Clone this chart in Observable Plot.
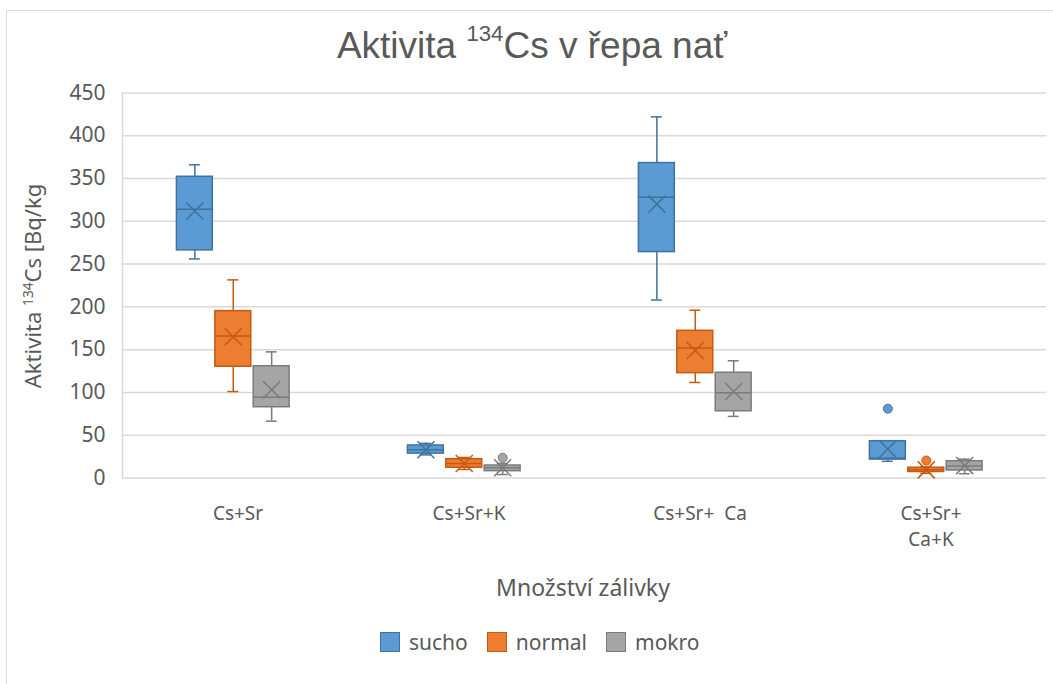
<!DOCTYPE html>
<html><head><meta charset="utf-8">
<script src="https://cdn.jsdelivr.net/npm/d3@7"></script>
<script src="https://cdn.jsdelivr.net/npm/@observablehq/plot@0.6"></script>
<style>
body{margin:0;background:#fff;width:1053px;height:684px;overflow:hidden;position:relative;font-family:"Noto Sans",sans-serif;color:#595959}
#border{position:absolute;left:6px;top:10px;width:1100px;height:720px;border:1.5px solid #dcdcdc;box-sizing:border-box}
#title{position:absolute;left:0;width:1064px;top:26px;text-align:center;font-family:"Liberation Sans",sans-serif;font-size:37px;line-height:40px;white-space:nowrap}
#title sup{font-size:0.6em;vertical-align:0;position:relative;top:-0.75em}
#ytitle{position:absolute;left:34px;top:286px;transform:translate(-50%,-50%) rotate(-90deg);font-size:22px;white-space:nowrap;line-height:24px}
#ytitle sup{font-size:0.62em;position:relative;top:-0.6em;vertical-align:0}
#xtitle{position:absolute;left:383px;width:400px;top:573px;text-align:center;font-size:23px;line-height:28px}
#legend{position:absolute;left:380px;top:629px;display:flex;align-items:center;font-size:21px;line-height:26px}
.item{display:flex;align-items:center;margin-right:19px}
.sw{width:20px;height:20px;margin-right:9px;box-sizing:border-box;border:1.5px solid}
#chart{position:absolute;left:0;top:70px}
svg text{white-space:pre}
</style></head>
<body>
<div id="border"></div>
<div id="title">Aktivita <sup>134</sup>Cs v řepa nať</div>
<div id="ytitle">Aktivita <sup>134</sup>Cs [Bq/kg</div>
<div id="chart"></div>
<div id="xtitle">Množství zálivky</div>
<div id="legend"></div>
<script>
const categories = ["Cs+Sr", "Cs+Sr+K", "Cs+Sr+  Ca", "Cs+Sr+\nCa+K"];
const seriesNames = ["sucho", "normal", "mokro"];
const fills = ["#5b9bd5", "#ed7d31", "#a5a5a5"];
const strokes = ["#41719c", "#c55a11", "#7b7b7b"];
const yTicks = [0, 50, 100, 150, 200, 250, 300, 350, 400, 450];

// per series, per category
const minV  = {sucho: [256, 27, 208, 19.5], normal: [101, 10, 111.6, 5.5], mokro: [66.4, 4, 72, 5]};
const q1V   = {sucho: [266, 28.5, 264, 21.5], normal: [130, 12, 122.5, 7], mokro: [82.7, 8, 78, 8.8]};
const medV  = {sucho: [314, 33, 328, 23], normal: [166, 17, 152, 9.5], mokro: [94.4, 12, 99.5, 14]};
const q3V   = {sucho: [352, 38, 368, 43], normal: [195, 22, 172, 12], mokro: [130.6, 14.6, 123, 19.6]};
const maxV  = {sucho: [366, 40.5, 422, 43], normal: [231.5, 24, 196, 13], mokro: [147.4, 17, 137, 22]};
const meanV = {sucho: [312, 33, 320, 34], normal: [165, 17, 149, 9.5], mokro: [103, 12, 101, 14.5]};
const outlierCat    = ["Cs+Sr+K", "Cs+Sr+\nCa+K", "Cs+Sr+\nCa+K"];
const outlierSeries = ["mokro", "sucho", "normal"];
const outlierValue  = [23.6, 81, 20.4];

const fillOf = s => fills[seriesNames.indexOf(s)];
const strokeOf = s => strokes[seriesNames.indexOf(s)];

const rows = [];
for (const s of seriesNames) categories.forEach((c, i) => rows.push({
  cat: c, series: s, min: minV[s][i], q1: q1V[s][i], med: medV[s][i], q3: q3V[s][i], max: maxV[s][i], mean: meanV[s][i]
}));
const outliers = outlierCat.map((c, i) => ({cat: c, series: outlierSeries[i], value: outlierValue[i]}));

const common = {fx: "cat", x: "series"};
const plot = Plot.plot({
  width: 1053,
  height: 500,
  marginTop: 22.4,
  marginBottom: 92.5,
  marginLeft: 120,
  marginRight: 6,
  style: {color: "#595959", fontFamily: "'Noto Sans', sans-serif", background: "transparent"},
  fx: {domain: categories, padding: 0},
  x: {domain: seriesNames, paddingInner: 0.065, paddingOuter: 1.54, align: 0.46, round: false, axis: null},
  y: {domain: [0, 450]},
  color: {type: "identity"},
  marks: [
    Plot.ruleY(yTicks, {stroke: "#d9d9d9", strokeWidth: 1.5}),
    Plot.frame({anchor: "left", stroke: "#d9d9d9", strokeWidth: 1.5, fx: [categories[0]]}),
    Plot.ruleX(rows, {...common, y1: "min", y2: "max", stroke: d => strokeOf(d.series), strokeWidth: 1.5}),
    Plot.tickY(rows, {...common, y: "min", stroke: d => strokeOf(d.series), strokeWidth: 1.5, insetLeft: 12.5, insetRight: 12.5}),
    Plot.tickY(rows, {...common, y: "max", stroke: d => strokeOf(d.series), strokeWidth: 1.5, insetLeft: 12.5, insetRight: 12.5}),
    Plot.barY(rows, {...common, y1: "q1", y2: "q3", fill: d => fillOf(d.series), stroke: d => strokeOf(d.series), strokeWidth: 1.5}),
    Plot.tickY(rows, {...common, y: "med", stroke: d => strokeOf(d.series), strokeWidth: 1.5}),
    Plot.dot(rows, {...common, y: "mean", symbol: "times", r: 7.8, stroke: d => strokeOf(d.series), strokeWidth: 1.5}),
    Plot.dot(outliers, {...common, y: "value", r: 4.5, fill: d => fillOf(d.series), stroke: d => strokeOf(d.series), strokeWidth: 1}),
    Plot.axisY({ticks: yTicks, tickSize: 0, tickPadding: 17, fontSize: 21, label: null}),
    Plot.axisFx({anchor: "bottom", tickSize: 0, tickPadding: 23, fontSize: 19, lineHeight: 1.4, label: null})
  ]
});
document.getElementById("chart").append(plot);

const legend = document.getElementById("legend");
seriesNames.forEach((s, i) => {
  const it = document.createElement("div"); it.className = "item";
  const sw = document.createElement("div"); sw.className = "sw";
  sw.style.background = fills[i]; sw.style.borderColor = strokes[i];
  const t = document.createElement("span"); t.textContent = s;
  it.append(sw, t); legend.append(it);
});
</script>
</body></html>
